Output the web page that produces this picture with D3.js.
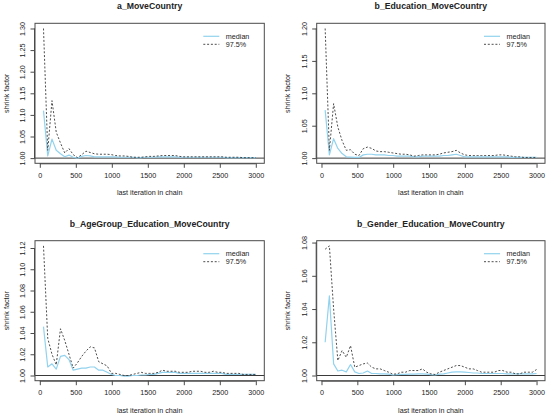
<!DOCTYPE html>
<html><head><meta charset="utf-8">
<script src="https://cdn.jsdelivr.net/npm/d3@7"></script>
<style>
body{margin:0;background:#fff}
svg{display:block}
text{font-family:"Liberation Sans",Arial,Helvetica,sans-serif;fill:#222}
</style>
</head><body>
<svg id="c" width="550" height="417"></svg>
<script>
// ---- data ----
const iterations = [51,110,169,228,287,346,405,464,523,582,
  641,700,759,818,877,936,995,1054,1113,1172,
  1231,1290,1349,1408,1467,1526,1585,1644,1703,1762,
  1821,1880,1939,1998,2057,2116,2175,2234,2293,2352,
  2411,2470,2529,2588,2647,2706,2765,2824,2883,2942,3000];

const titles = ["a_MoveCountry","b_Education_MoveCountry","b_AgeGroup_Education_MoveCountry","b_Gender_Education_MoveCountry"];
const legendLabels = ["median","97.5%"];
const xLabel = "last iteration in chain";
const yLabel = "shrink factor";
const xTicks = [0,500,1000,1500,2000,2500,3000];

const yTicks_a = [1.00,1.05,1.10,1.15,1.20,1.25,1.30];
const yTicks_b = [1.00,1.05,1.10,1.15,1.20];
const yTicks_c = [1.00,1.02,1.04,1.06,1.08,1.10,1.12];
const yTicks_d = [1.00,1.02,1.04,1.06,1.08];

const upper_a = [1.300,1.018,1.133,1.060,1.035,1.012,1.022,1.008,1.001,1.008,
  1.016,1.013,1.010,1.009,1.009,1.009,1.008,1.006,1.005,1.005,
  1.004,1.002,1.002,1.002,1.003,1.004,1.004,1.005,1.006,1.006,
  1.006,1.006,1.004,1.003,1.003,1.003,1.003,1.003,1.003,1.003,
  1.003,1.003,1.003,1.002,1.002,1.002,1.002,1.001,1.001,1.001,1.001];
const median_a = [1.110,1.005,1.044,1.018,1.010,1.003,1.007,1.002,1.000,1.004,
  1.006,1.005,1.003,1.003,1.003,1.003,1.003,1.003,1.002,1.002,
  1.002,1.002,1.001,1.001,1.002,1.002,1.002,1.003,1.003,1.003,
  1.003,1.003,1.002,1.002,1.002,1.002,1.002,1.002,1.002,1.002,
  1.002,1.002,1.002,1.001,1.001,1.001,1.001,1.001,1.001,1.001,1.001];

const upper_b = [1.200,1.012,1.084,1.048,1.027,1.012,1.013,1.006,1.004,1.0145,
  1.017,1.015,1.011,1.010,1.010,1.009,1.008,1.007,1.006,1.006,
  1.005,1.003,1.004,1.005,1.005,1.005,1.005,1.006,1.008,1.009,
  1.010,1.012,1.008,1.005,1.004,1.004,1.004,1.004,1.004,1.004,
  1.004,1.005,1.005,1.004,1.003,1.002,1.002,1.001,1.001,1.001,1.001];
const median_b = [1.074,1.005,1.030,1.015,1.007,1.002,1.0015,1.001,1.001,1.005,
  1.006,1.006,1.005,1.005,1.005,1.004,1.004,1.003,1.003,1.003,
  1.003,1.002,1.002,1.003,1.003,1.003,1.003,1.003,1.004,1.004,
  1.005,1.006,1.004,1.002,1.002,1.002,1.002,1.002,1.002,1.002,
  1.002,1.002,1.002,1.002,1.001,1.001,1.001,1.001,1.001,1.001,1.001];

const upper_c = [1.122,1.035,1.020,1.010,1.044,1.033,1.020,1.007,1.012,1.018,
  1.023,1.027,1.026,1.013,1.011,1.009,1.002,1.002,1.001,1.000,
  1.000,1.001,1.002,1.003,1.002,1.002,1.002,1.003,1.005,1.004,
  1.004,1.004,1.003,1.003,1.003,1.004,1.004,1.004,1.003,1.003,
  1.004,1.003,1.003,1.002,1.002,1.002,1.002,1.001,1.001,1.001,1.001];
const median_c = [1.046,1.008,1.011,1.006,1.018,1.019,1.015,1.005,1.006,1.007,
  1.007,1.008,1.008,1.005,1.005,1.003,1.001,1.000,1.000,0.9995,
  0.9995,1.000,1.000,1.0005,1.0005,1.001,1.001,1.002,1.003,1.003,
  1.003,1.003,1.002,1.002,1.002,1.002,1.002,1.002,1.002,1.002,
  1.002,1.002,1.002,1.001,1.001,1.001,1.001,1.001,1.001,1.001,1.001];

const upper_d = [1.076,1.078,1.040,1.009,1.015,1.011,1.018,1.005,1.006,1.007,
  1.0075,1.005,1.004,1.004,1.003,1.002,1.0008,1.001,1.002,1.002,
  1.003,1.003,1.003,1.004,1.002,1.001,1.0006,1.002,1.003,1.004,
  1.005,1.006,1.006,1.005,1.004,1.004,1.003,1.002,1.002,1.002,
  1.002,1.003,1.003,1.002,1.002,1.001,1.001,1.002,1.002,1.002,1.0036];
const median_d = [1.020,1.048,1.007,1.0027,1.0032,1.0022,1.0066,1.0022,1.0012,1.0015,
  1.0027,1.0012,1.0012,1.001,1.001,1.0008,1.0003,1.0005,1.0007,1.0007,
  1.0008,1.0008,1.001,1.001,1.0008,1.0005,1.0003,1.0008,1.001,1.0015,
  1.002,1.0022,1.0022,1.002,1.0018,1.0015,1.0015,1.0012,1.0012,1.0012,
  1.0012,1.0012,1.0012,1.001,1.001,1.001,1.001,1.001,1.001,1.001,1.0012];

// ---- layout ----
const boxes = [
  {l:35,   r:264.3, t:23.3,  b:163.3},
  {l:316.7,r:545,   t:23.3,  b:163.3},
  {l:35,   r:264.3, t:240.7, b:380.7},
  {l:316.7,r:545,   t:240.7, b:380.7}
];
const panels = [
  {title:titles[0], median:median_a, upper:upper_a, ticks:yTicks_a},
  {title:titles[1], median:median_b, upper:upper_b, ticks:yTicks_b},
  {title:titles[2], median:median_c, upper:upper_c, ticks:yTicks_c},
  {title:titles[3], median:median_d, upper:upper_d, ticks:yTicks_d}
];

const svg = d3.select("#c");
const FS = 7.2, TFS = 8.7;
const blue = "#92d2ee", dark = "#3a3a3a", axisCol = "#4a4a4a";

panels.forEach((p, k) => {
  const bx = boxes[k];
  const g = svg.append("g");
  const xmin = d3.min(iterations), xmax = d3.max(iterations);
  const xs = xmax - xmin;
  const x = d3.scaleLinear().domain([xmin - 0.04*xs, xmax + 0.04*xs]).range([bx.l, bx.r]);
  const ymax = Math.max(1, d3.max(p.upper));
  const ys = ymax - 1;
  const y = d3.scaleLinear().domain([1 - 0.04*ys, ymax + 0.04*ys]).range([bx.b, bx.t]);

  // reference line at 1
  g.append("line").attr("x1", bx.l).attr("x2", bx.r).attr("y1", y(1)).attr("y2", y(1))
    .attr("stroke", "#3a3a3a").attr("stroke-width", 1);

  const line = d3.line().x((d,i) => x(iterations[i])).y(d => y(d));
  g.append("path").datum(p.median).attr("d", line).attr("fill","none")
    .attr("stroke", blue).attr("stroke-width", 1.2).attr("stroke-linejoin","round");
  g.append("path").datum(p.upper).attr("d", line).attr("fill","none")
    .attr("stroke", dark).attr("stroke-width", 0.9).attr("stroke-dasharray","2,1.8");

  // box
  g.append("rect").attr("x", bx.l).attr("y", bx.t).attr("width", bx.r-bx.l).attr("height", bx.b-bx.t)
    .attr("fill","none").attr("stroke",axisCol).attr("stroke-width",1);

  // x axis
  const xa = g.append("g").attr("transform", `translate(0,${bx.b})`)
    .call(d3.axisBottom(x).tickValues(xTicks).tickSize(4.5).tickSizeOuter(0).tickFormat(d3.format("d")));
  xa.select(".domain").attr("d", `M${x(xTicks[0])},0.5H${x(xTicks[xTicks.length-1])}`).attr("stroke",axisCol);
  xa.selectAll(".tick line").attr("stroke",axisCol);
  xa.selectAll(".tick text").attr("y", 11.7).attr("dy","0.35em")
    .attr("font-size", FS).attr("font-family", null).style("fill","#222");

  // y axis
  const ya = g.append("g").attr("transform", `translate(${bx.l},0)`)
    .call(d3.axisLeft(y).tickValues(p.ticks).tickSize(4.5).tickSizeOuter(0).tickFormat(d3.format(".2f")));
  ya.select(".domain").attr("d", `M-0.5,${y(p.ticks[0])}V${y(p.ticks[p.ticks.length-1])}`).attr("stroke",axisCol);
  ya.selectAll(".tick line").attr("stroke",axisCol);
  ya.selectAll(".tick text").attr("x", null).attr("dy","0.35em")
    .attr("transform","translate(-12.3,0) rotate(-90)")
    .attr("text-anchor","middle").attr("font-size", FS).attr("font-family", null).style("fill","#222");

  // titles and labels
  g.append("text").attr("x", (bx.l+bx.r)/2).attr("y", bx.t-17.2).attr("dy","0.35em")
    .attr("text-anchor","middle").attr("font-weight","bold").attr("font-size", TFS).text(p.title);
  g.append("text").attr("x", (bx.l+bx.r)/2).attr("y", bx.b+29.4).attr("dy","0.35em")
    .attr("text-anchor","middle").attr("font-size", FS).text(xLabel);
  g.append("text").attr("transform", `translate(${bx.l-29},${(bx.t+bx.b)/2}) rotate(-90)`).attr("dy","0.35em")
    .attr("text-anchor","middle").attr("font-size", FS).text(yLabel);

  // legend
  const ly = [bx.t+13, bx.t+21];
  g.append("line").attr("x1", bx.r-61).attr("x2", bx.r-45).attr("y1", ly[0]).attr("y2", ly[0])
    .attr("stroke", blue).attr("stroke-width", 1.2);
  g.append("line").attr("x1", bx.r-61).attr("x2", bx.r-45).attr("y1", ly[1]).attr("y2", ly[1])
    .attr("stroke", dark).attr("stroke-width", 0.9).attr("stroke-dasharray","2,1.8");
  legendLabels.forEach((t,i) => {
    g.append("text").attr("x", bx.r-38.5).attr("y", ly[i]).attr("dy","0.35em")
      .attr("font-size", FS).text(t);
  });
});
</script>
</body></html>
